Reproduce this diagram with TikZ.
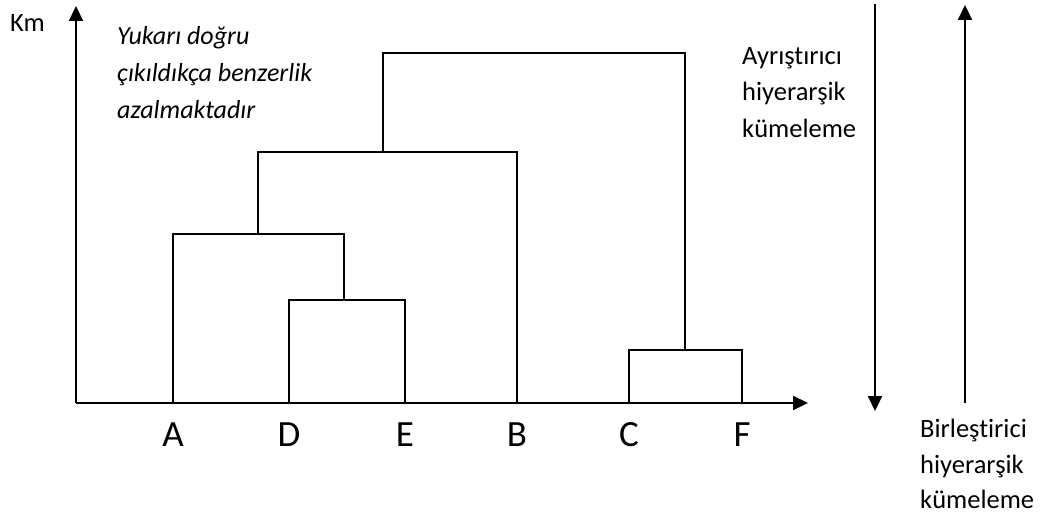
\documentclass[tikz,border=0pt]{standalone}
\usepackage{fontspec}
\setmainfont{Carlito}[Ligatures={NoCommon}]
\usetikzlibrary{arrows.meta}
\begin{document}
\begin{tikzpicture}[x=1pt,y=-1pt,
  axis/.style={line width=2.2pt,-{Triangle[width=14pt,length=15pt]}},
  dend/.style={line width=1.9pt,line cap=rect},
  lbl/.style={anchor=base west,inner sep=0pt,font=\fontsize{26.5}{30}\selectfont},
  ital/.style={lbl,font=\fontsize{26}{30}\selectfont\itshape},
  leaf/.style={anchor=base,inner sep=0pt,font=\fontsize{37}{40}\selectfont}]
\useasboundingbox (0,0) rectangle (1046,519);
% axes
\coordinate (o) at (76,403);
\coordinate (ytip) at (76,6);
\coordinate (xtip) at (808,403);
\draw[axis] (o) -- (ytip);
\draw[axis] (o) -- (xtip);
% leaves
\coordinate (lA) at (173,403);
\coordinate (lD) at (289,403);
\coordinate (lE) at (405,403);
\coordinate (lB) at (517,403);
\coordinate (lC) at (629,403);
\coordinate (lF) at (742,403);
% merges
\coordinate (mDE) at (344,300);
\coordinate (mADE) at (258,234);
\coordinate (mADEB) at (383,152);
\coordinate (mCF) at (685,350);
\coordinate (mTop) at (685,53);
\draw[dend] (lD) |- (mDE) -| (lE);
\draw[dend] (lA) |- (mADE) -| (mDE);
\draw[dend] (mADE) |- (mADEB) -| (lB);
\draw[dend] (lC) |- (mCF) -| (lF);
\draw[dend] (mADEB) |- (mTop) -- (mCF);
% leaf labels
\node[leaf] (A) at (173,446) {A};
\node[leaf] (D) at (289,446) {D};
\node[leaf] (E) at (405,446) {E};
\node[leaf] (B) at (517,446) {B};
\node[leaf] (C) at (629,446) {C};
\node[leaf] (F) at (742,446) {F};
% texts
\node[lbl] (km) at (10,32) {Km};
\node[ital] (t1) at (117,45) {Yukarı doğru};
\node[ital] (t2) at (117,81.5) {çıkıldıkça benzerlik};
\node[ital] (t3) at (117,118) {azalmaktadır};
\node[lbl] (r1) at (742,64) {Ayrıştırıcı};
\node[lbl] (r2) at (742,100) {hiyerarşik};
\node[lbl] (r3) at (742,137) {kümeleme};
\node[lbl] (b1) at (920,437) {Birleştirici};
\node[lbl] (b2) at (920,473) {hiyerarşik};
\node[lbl] (b3) at (920,508) {kümeleme};
% side arrows
\coordinate (dTop) at (875,4);
\coordinate (dBot) at (875,411);
\coordinate (uBot) at (965,403);
\coordinate (uTop) at (965,5);
\draw[axis] (dTop) -- (dBot);
\draw[axis] (uBot) -- (uTop);
\end{tikzpicture}
\end{document}
